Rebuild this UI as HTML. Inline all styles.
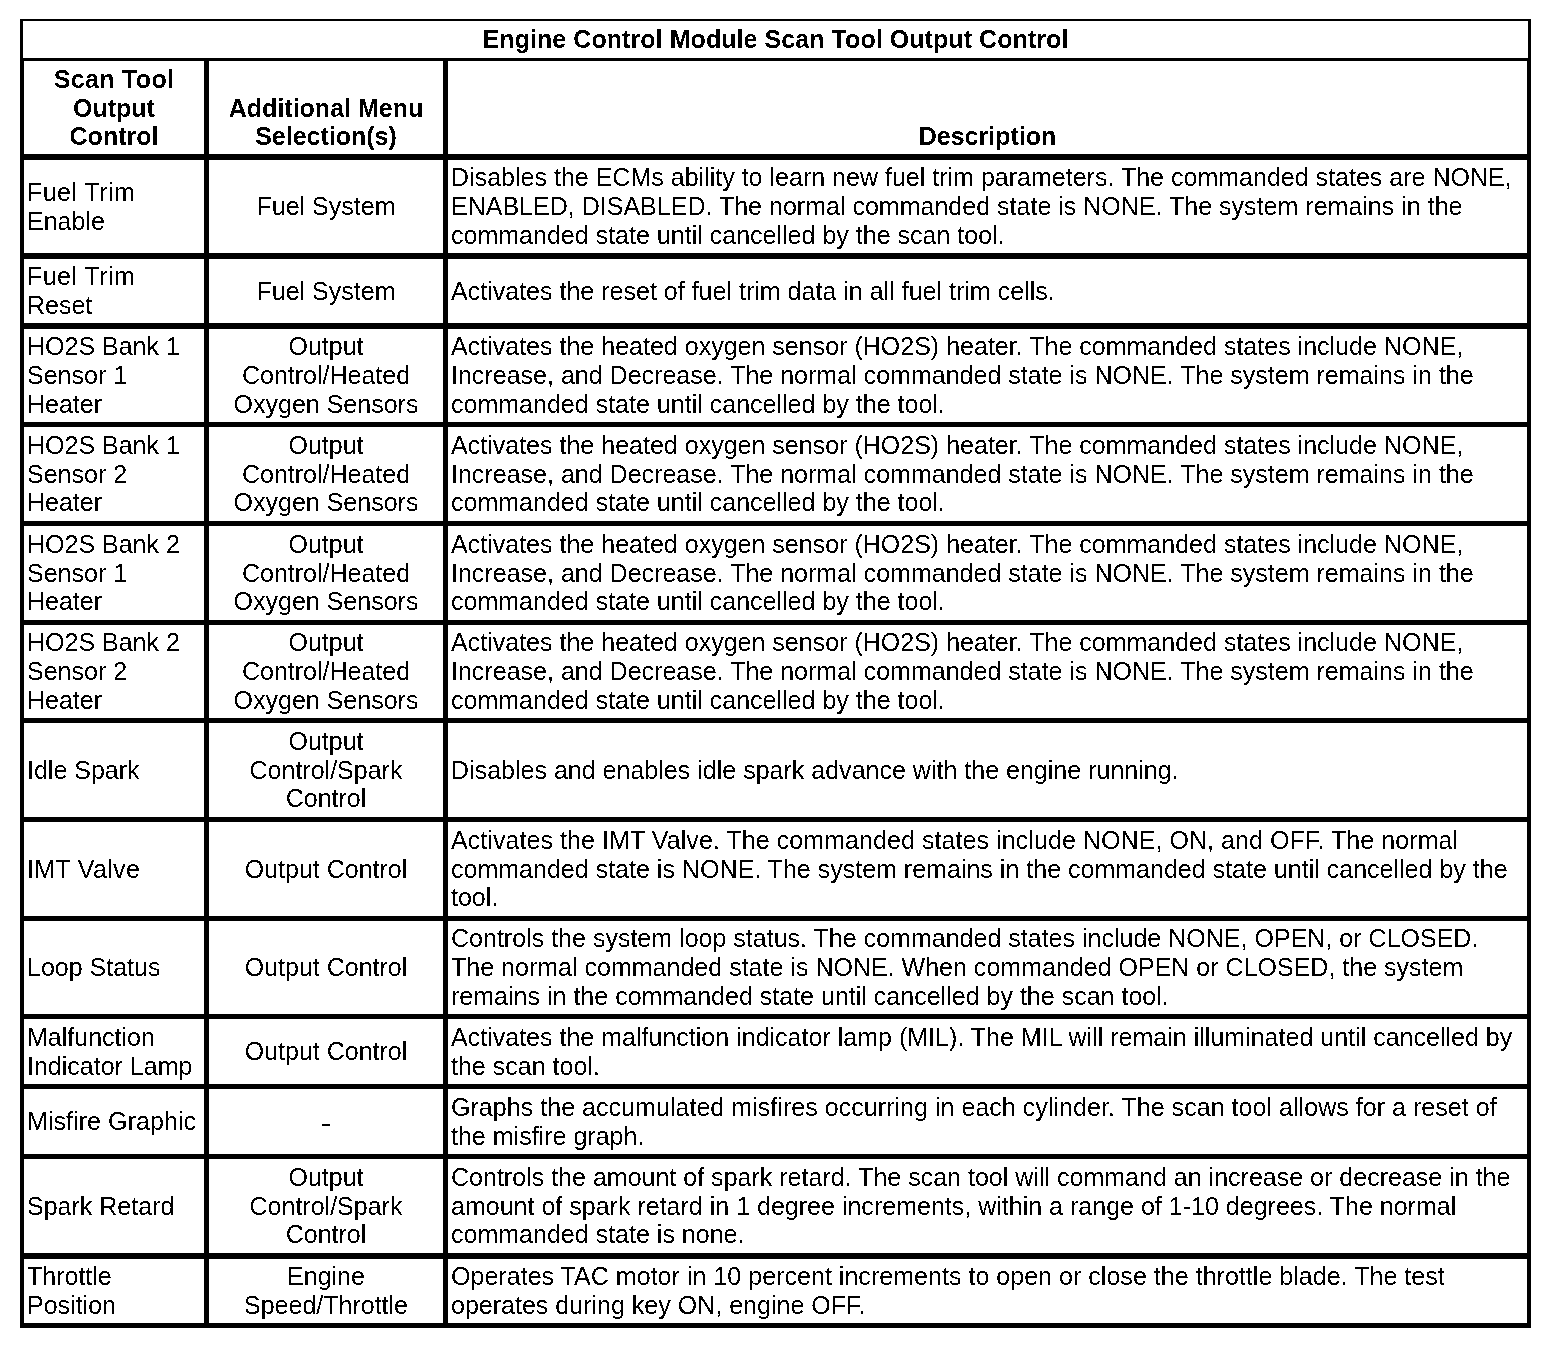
<!DOCTYPE html>
<html lang="en">
<head>
<meta charset="utf-8">
<title>Engine Control Module Scan Tool Output Control</title>
<style>
  html, body { margin: 0; padding: 0; background: #fff; }
  body { width: 1568px; height: 1346px; position: relative; overflow: hidden;
         font-family: "Liberation Sans", Arial, Helvetica, sans-serif;
         font-size: 25px; line-height: 28.7px; color: #000; }
  table.ecm { filter: url(#bw); transform: translateZ(0); will-change: transform; position: absolute; left: 20px; top: 19px; width: 1511px;
              border-collapse: separate; border-spacing: 0; table-layout: fixed; }
  table.ecm td, table.ecm th { box-sizing: border-box; margin: 0; padding: 0 3px;
              border: 0 solid #000; font-weight: normal; white-space: nowrap;
              vertical-align: middle; overflow: hidden; }
  /* column borders */
  table.ecm tr > .c1 { border-left-width: 4px; border-right-width: 5px; text-align: left; }
  table.ecm tr > .c2 { border-right-width: 5px; text-align: center; }
  table.ecm tr > .c3 { border-right-width: 4px; text-align: left; letter-spacing: 0.011px; }
  table.ecm tr > * { border-bottom-width: 6px; }
  table.ecm tr.title > th { border-width: 2px 3px 3px 3px; height: 42px; text-align: center; font-weight: bold; letter-spacing: 0.067px; }
  table.ecm tr.head > th { font-weight: bold; text-align: center; vertical-align: bottom; padding-bottom: 3px; }
  table.ecm tr.b5 > * { border-bottom-width: 5px; }
  table.ecm tr.b6 > * { border-bottom-width: 6px; }
</style>
</head>
<body>
<svg width="0" height="0" style="position:absolute" aria-hidden="true" focusable="false">
  <defs>
    <!-- hard alpha threshold: reproduces the non-antialiased (bilevel) rasterisation of the source -->
    <filter id="bw" x="0" y="0" width="100%" height="100%" color-interpolation-filters="sRGB">
      <feComponentTransfer><feFuncA type="discrete" tableValues="0 1"/></feComponentTransfer>
    </filter>
  </defs>
</svg>
<table class="ecm">
  <colgroup><col style="width:189px"><col style="width:239px"><col style="width:1083px"></colgroup>
  <thead>
    <tr class="title"><th colspan="3">Engine Control Module Scan Tool Output Control</th></tr>
    <tr class="head b6" style="height:99px">
      <th class="c1"><span style="letter-spacing:.33px">Scan Tool</span><br>Output<br>Control</th>
      <th class="c2">Additional Menu<br>Selection(s)</th>
      <th class="c3">Description</th>
    </tr>
  </thead>
  <tbody>
    <tr class="b6" style="height:99px">
      <td class="c1"><span style="letter-spacing:.45px">Fuel Trim</span><br>Enable</td>
      <td class="c2">Fuel System</td>
      <td class="c3">Disables the ECMs ability to learn new fuel trim parameters. The commanded states are NONE,<br>ENABLED, DISABLED. The normal commanded state is NONE. The system remains in the<br>commanded state until cancelled by the scan tool.</td>
    </tr>
    <tr class="b6" style="height:70px">
      <td class="c1"><span style="letter-spacing:.45px">Fuel Trim</span><br>Reset</td>
      <td class="c2">Fuel System</td>
      <td class="c3">Activates the reset of fuel trim data in all fuel trim cells.</td>
    </tr>
    <tr class="b5" style="height:98px">
      <td class="c1">HO2S Bank 1<br>Sensor 1<br>Heater</td>
      <td class="c2">Output<br>Control/Heated<br>Oxygen Sensors</td>
      <td class="c3">Activates the heated oxygen sensor (HO2S) heater. The commanded states include NONE,<br>Increase, and Decrease. The normal commanded state is NONE. The system remains in the<br>commanded state until cancelled by the tool.</td>
    </tr>
    <tr class="b5" style="height:99px">
      <td class="c1">HO2S Bank 1<br>Sensor 2<br>Heater</td>
      <td class="c2">Output<br>Control/Heated<br>Oxygen Sensors</td>
      <td class="c3">Activates the heated oxygen sensor (HO2S) heater. The commanded states include NONE,<br>Increase, and Decrease. The normal commanded state is NONE. The system remains in the<br>commanded state until cancelled by the tool.</td>
    </tr>
    <tr class="b5" style="height:99px">
      <td class="c1">HO2S Bank 2<br>Sensor 1<br>Heater</td>
      <td class="c2">Output<br>Control/Heated<br>Oxygen Sensors</td>
      <td class="c3">Activates the heated oxygen sensor (HO2S) heater. The commanded states include NONE,<br>Increase, and Decrease. The normal commanded state is NONE. The system remains in the<br>commanded state until cancelled by the tool.</td>
    </tr>
    <tr class="b5" style="height:98px">
      <td class="c1">HO2S Bank 2<br>Sensor 2<br>Heater</td>
      <td class="c2">Output<br>Control/Heated<br>Oxygen Sensors</td>
      <td class="c3">Activates the heated oxygen sensor (HO2S) heater. The commanded states include NONE,<br>Increase, and Decrease. The normal commanded state is NONE. The system remains in the<br>commanded state until cancelled by the tool.</td>
    </tr>
    <tr class="b5" style="height:99px">
      <td class="c1">Idle Spark</td>
      <td class="c2">Output<br>Control/Spark<br>Control</td>
      <td class="c3">Disables and enables idle spark advance with the engine running.</td>
    </tr>
    <tr class="b5" style="height:99px">
      <td class="c1"><span style="letter-spacing:.33px">IMT Valve</span></td>
      <td class="c2">Output Control</td>
      <td class="c3"><span style="letter-spacing:.07px">Activates the IMT Valve. The commanded states include NONE, ON, and OFF. The normal</span><br>commanded state is NONE. The system remains in the commanded state until cancelled by the<br>tool.</td>
    </tr>
    <tr class="b5" style="height:98px">
      <td class="c1">Loop Status</td>
      <td class="c2">Output Control</td>
      <td class="c3">Controls the system loop status. The commanded states include NONE, OPEN, or CLOSED.<br>The normal commanded state is NONE. When commanded OPEN or CLOSED, the system<br>remains in the commanded state until cancelled by the scan tool.</td>
    </tr>
    <tr class="b5" style="height:70px">
      <td class="c1">Malfunction<br>Indicator Lamp</td>
      <td class="c2">Output Control</td>
      <td class="c3">Activates the malfunction indicator lamp (MIL). The MIL will remain illuminated until cancelled by<br>the scan tool.</td>
    </tr>
    <tr class="b5" style="height:70px">
      <td class="c1"><span style="letter-spacing:.07px">Misfire Graphic</span></td>
      <td class="c2"><span style="display:inline-block;position:relative;top:2px;transform:scaleX(1.34)">-</span></td>
      <td class="c3"><span style="letter-spacing:.042px">Graphs the accumulated misfires occurring in each cylinder. The scan tool allows for a reset of</span><br>the misfire graph.</td>
    </tr>
    <tr class="b6" style="height:100px">
      <td class="c1">Spark Retard</td>
      <td class="c2">Output<br>Control/Spark<br>Control</td>
      <td class="c3">Controls the amount of spark retard. The scan tool will command an increase or decrease in the<br>amount of spark retard in 1 degree increments, within a range of 1-10 degrees. The normal<br>commanded state is none.</td>
    </tr>
    <tr class="b5" style="height:69px">
      <td class="c1">Throttle<br>Position</td>
      <td class="c2">Engine<br>Speed/Throttle</td>
      <td class="c3"><span style="letter-spacing:.033px">Operates TAC motor in 10 percent increments to open or close the throttle blade. The test</span><br>operates during key ON, engine OFF.</td>
    </tr>
  </tbody>
</table>
</body>
</html>
